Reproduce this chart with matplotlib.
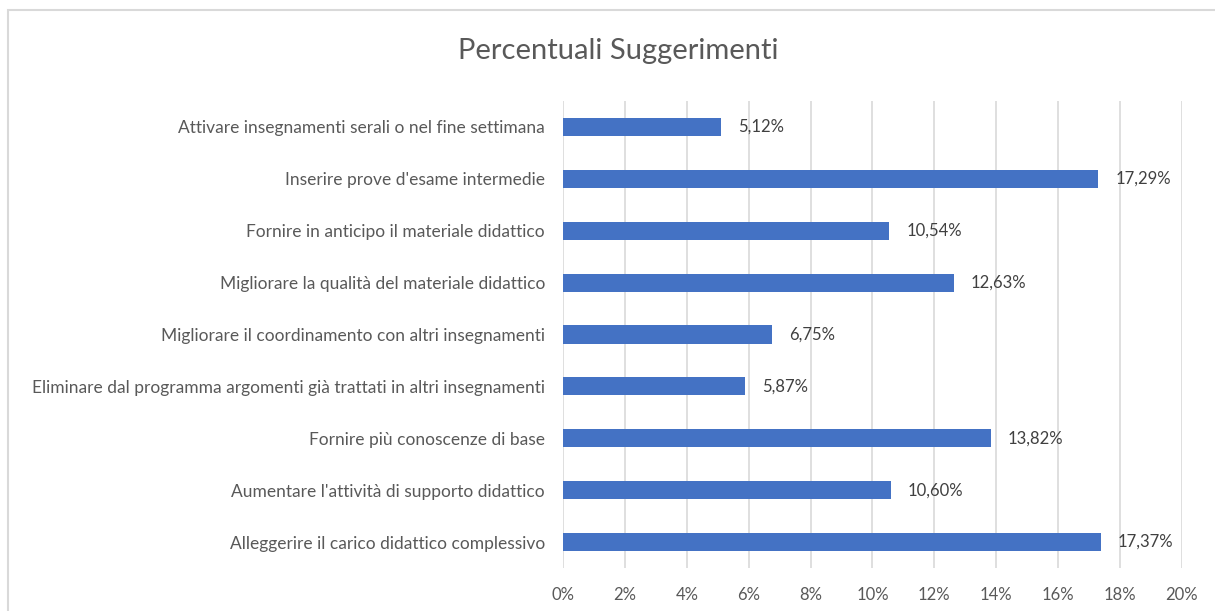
import matplotlib
matplotlib.use("Agg")
import matplotlib.pyplot as plt
from matplotlib.patches import Rectangle
from matplotlib.ticker import FuncFormatter

categories = [
    "Alleggerire il carico didattico complessivo",
    "Aumentare l'attività di supporto didattico",
    "Fornire più conoscenze di base",
    "Eliminare dal programma argomenti già trattati in altri insegnamenti",
    "Migliorare il coordinamento con altri insegnamenti",
    "Migliorare la qualità del materiale didattico",
    "Fornire in anticipo il materiale didattico",
    "Inserire prove d'esame intermedie",
    "Attivare insegnamenti serali o nel fine settimana",
]
values = [17.37, 10.60, 13.82, 5.87, 6.75, 12.63, 10.54, 17.29, 5.12]
xticks = [0, 2, 4, 6, 8, 10, 12, 14, 16, 18, 20]

plt.rcParams['font.family'] = ['Lato', 'DejaVu Sans']
txt = '#595959'

fig = plt.figure(figsize=(12.15, 6.11), dpi=100)
ax = fig.add_axes([0.4634, 0.0704, 0.5094, 0.7643])

ypos = range(len(categories))
ax.barh(ypos, values, height=0.35, color='#4472C4', zorder=3)
for y, v in zip(ypos, values):
    ax.text(v + 0.55, y, f"{v:.2f}%".replace('.', ','), va='center', ha='left',
            fontsize=12, color='#404040')

ax.set_xlim(0, 20)
ax.set_ylim(-0.5, len(categories) - 0.5)
ax.set_xticks(xticks)
ax.xaxis.set_major_formatter(FuncFormatter(lambda x, p: f"{int(x)}%"))
ax.set_yticks(list(ypos))
ax.set_yticklabels(categories)
ax.tick_params(axis='both', length=0, labelsize=12.5, labelcolor=txt)
ax.tick_params(axis='x', pad=14, labelsize=12)
ax.tick_params(axis='y', pad=13)
ax.grid(axis='x', color='#D9D9D9', linewidth=1.2, zorder=0)
for s in ax.spines.values():
    s.set_visible(False)

fig.text(0.509, 0.916, "Percentuali Suggerimenti", ha='center', va='center',
         fontsize=21, color=txt)

fig.patches.append(Rectangle((8 / 1215, -0.1), 1.2, 1 - 9.5 / 611 + 0.1,
                             transform=fig.transFigure, fill=False,
                             edgecolor='#D9D9D9', linewidth=1.5))

fig.savefig("out.png", dpi=100)
